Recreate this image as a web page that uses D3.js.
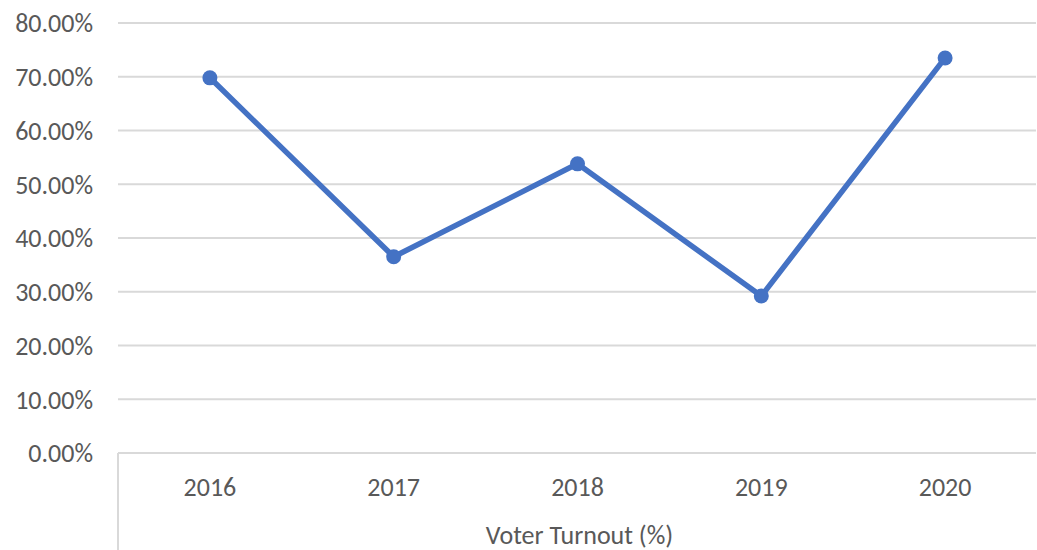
<!DOCTYPE html>
<html>
<head>
<meta charset="utf-8">
<script src="https://cdn.jsdelivr.net/npm/d3@7"></script>
<style>
  html, body { margin: 0; padding: 0; background: #fff; }
  svg { display: block; }
</style>
</head>
<body>
<svg id="chart" width="1037" height="550"></svg>
<script>
// Voter turnout by year
const years = ["2016", "2017", "2018", "2019", "2020"];
const turnout = [0.698, 0.365, 0.538, 0.292, 0.735];
const yTicks = [0, 0.1, 0.2, 0.3, 0.4, 0.5, 0.6, 0.7, 0.8];
const axisTitle = "Voter Turnout (%)";

const svg = d3.select("#chart");
const plot = { left: 118, right: 1037, top: 23, bottom: 453 };
const font = "Carlito, 'Open Sans', 'Liberation Sans', sans-serif";
const fontSize = "26px";
const textColor = "#595959";

const x = d3.scaleBand().domain(years).range([plot.left, plot.right]);
const y = d3.scaleLinear().domain([0, 0.8]).range([plot.bottom, plot.top]);

// horizontal gridlines
svg.append("g")
  .selectAll("line")
  .data(yTicks)
  .join("line")
  .attr("x1", plot.left).attr("x2", plot.right - 1)
  .attr("y1", d => y(d)).attr("y2", d => y(d))
  .attr("stroke", "#d9d9d9").attr("stroke-width", 2);

// y-axis labels
const yAxis = d3.axisLeft(y).tickValues(yTicks).tickFormat(d3.format(".2%")).tickSize(0).tickPadding(0);
const yg = svg.append("g").attr("transform", `translate(${plot.left - 25},0)`).call(yAxis);
yg.select(".domain").remove();
yg.selectAll("text")
  .attr("fill", textColor)
  .attr("dy", "0.34em")
  .style("font-family", font)
  .style("font-size", fontSize);

// category axis: left border and labels
svg.append("line")
  .attr("x1", plot.left).attr("x2", plot.left)
  .attr("y1", plot.bottom).attr("y2", 550)
  .attr("stroke", "#d9d9d9").attr("stroke-width", 2);

const xAxis = d3.axisBottom(x).tickSize(0).tickPadding(24);
const xg = svg.append("g").attr("transform", `translate(0,${plot.bottom})`).call(xAxis);
xg.select(".domain").remove();
xg.selectAll("text")
  .attr("fill", textColor)
  .attr("y", 43)
  .attr("dy", 0)
  .style("font-family", font)
  .style("font-size", fontSize);

svg.append("text")
  .attr("x", (plot.left + plot.right) / 2 + 2)
  .attr("y", 544)
  .attr("text-anchor", "middle")
  .attr("fill", textColor)
  .style("font-family", font)
  .style("font-size", fontSize)
  .text(axisTitle);

// series line and markers
const cx = d => x(d) + x.bandwidth() / 2;
const line = d3.line().x((d, i) => cx(years[i])).y(d => y(d));

svg.append("path")
  .datum(turnout)
  .attr("d", line)
  .attr("fill", "none")
  .attr("stroke", "#4472C4")
  .attr("stroke-width", 5.5)
  .attr("stroke-linejoin", "round");

svg.append("g")
  .selectAll("circle")
  .data(turnout)
  .join("circle")
  .attr("cx", (d, i) => cx(years[i]))
  .attr("cy", d => y(d))
  .attr("r", 7.5)
  .attr("fill", "#4472C4");
</script>
</body>
</html>
